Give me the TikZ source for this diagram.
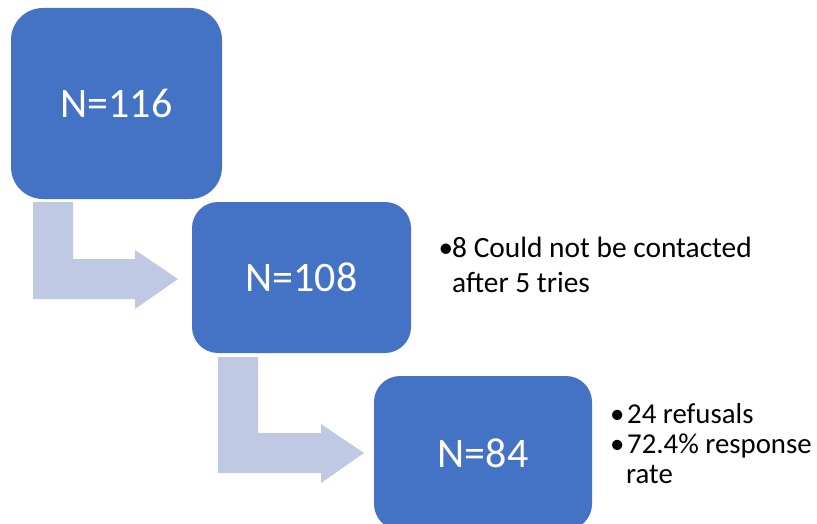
\documentclass[tikz,border=0pt]{standalone}
\usepackage{fontspec}
\setmainfont{Carlito}
\definecolor{boxblue}{HTML}{4472C4}
\definecolor{arrowblue}{HTML}{BFC9E3}
\begin{document}
\begin{tikzpicture}[x=1pt,y=-1pt,
  stagebox/.style={draw=none,fill=boxblue,text=white,inner sep=0pt,
    font=\fontsize{42}{50}\selectfont},
  blockarrow/.style={fill=arrowblue,draw=none},
  notetext/.style={inner sep=0pt,anchor=base west,text=black},
  bigtxt/.style={font=\fontsize{29.4}{34}\selectfont},
  smalltxt/.style={font=\fontsize{28.8}{30}\selectfont}]
\useasboundingbox (0,0) rectangle (817,524);
\clip (0,0) rectangle (817,524);
% bent block arrows
\path[blockarrow] (33,202) -- (73,202) -- (73,259) -- (135,259) -- (135,250)
  -- (178,279) -- (135,309) -- (135,299) -- (33,299) -- cycle;
\path[blockarrow] (218,357) -- (258,357) -- (258,433) -- (321,433) -- (321,424)
  -- (364,453) -- (321,483) -- (321,473) -- (218,473) -- cycle;
% boxes
\node[stagebox,rounded corners=32pt,minimum width=211pt,minimum height=191pt]
  (b1) at (116.5,103.5) {N=116};
\node[stagebox,rounded corners=26pt,minimum width=219pt,minimum height=151pt]
  (b2) at (301.5,277.5) {N=108};
\node[stagebox,rounded corners=26pt,minimum width=218pt,minimum height=154pt]
  (b3) at (483,453) {N=84};
% notes
\node[notetext,bigtxt] (n1b) at (438.5,257) {•};
\node[notetext,bigtxt] (n1a) at (452,257) {8 Could not be contacted};
\node[notetext,bigtxt] (n1c) at (452,292) {after 5 tries};
\node[notetext,smalltxt] (n2b) at (610,423) {•};
\node[notetext,smalltxt] (n2a) at (627,423) {24 refusals};
\node[notetext,smalltxt] (n3b) at (610,453) {•};
\node[notetext,smalltxt] (n3a) at (627,453) {72.4\% response};
\node[notetext,smalltxt] (n3c) at (626,483) {rate};
\end{tikzpicture}
\end{document}
